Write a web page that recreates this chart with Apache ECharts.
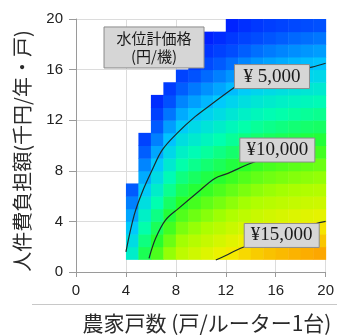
<!DOCTYPE html>
<html>
<head>
<meta charset="utf-8">
<script src="https://cdn.jsdelivr.net/npm/echarts@6/dist/echarts.min.js"></script>
<style>
  html, body { margin: 0; padding: 0; background: #ffffff; }
  #chart { width: 337px; height: 336px; }
</style>
</head>
<body>
<div id="chart"></div>
<script>
// Cell centres along the farm-count axis (households per router)
const farmCenters = [4.5, 5.5, 6.5, 7.5, 8.5, 9.5, 10.5, 11.5, 12.5, 13.5, 14.5, 15.5, 16.5, 17.5, 18.5, 19.5];
// Labour-cost centre of the lowest row in every column (thousand yen / year / household)
const laborStart = 1.5;

// Affordable water-level gauge price (yen per unit), one list per column, bottom row first
const priceByColumn = [
  [6700, 5900, 5100, 4300, 3500, 2700],
  [9200, 8400, 7600, 6800, 6000, 5200, 4400, 3600, 2800, 2000],
  [10700, 9900, 9100, 8300, 7500, 6700, 5900, 5100, 4300, 3500, 2700, 1900, 1100],
  [12100, 11300, 10500, 9700, 8900, 8100, 7300, 6500, 5700, 4900, 4100, 3300, 2500, 1700],
  [13200, 12400, 11600, 10800, 10000, 9200, 8400, 7600, 6800, 6000, 5200, 4400, 3600, 2800, 2000],
  [13750, 12950, 12150, 11350, 10550, 9750, 8950, 8150, 7350, 6550, 5750, 4950, 4150, 3350, 2550, 1750],
  [14250, 13450, 12650, 11850, 11050, 10250, 9450, 8650, 7850, 7050, 6250, 5450, 4650, 3850, 3050, 2250, 1450, 650],
  [14700, 13900, 13100, 12300, 11500, 10700, 9900, 9100, 8300, 7500, 6700, 5900, 5100, 4300, 3500, 2700, 1900, 1100],
  [15150, 14350, 13550, 12750, 11950, 11150, 10350, 9550, 8750, 7950, 7150, 6350, 5550, 4750, 3950, 3150, 2350, 1550, 750],
  [15600, 14800, 14000, 13200, 12400, 11600, 10800, 10000, 9200, 8400, 7600, 6800, 6000, 5200, 4400, 3600, 2800, 2000, 1200],
  [15950, 15150, 14350, 13550, 12750, 11950, 11150, 10350, 9550, 8750, 7950, 7150, 6350, 5550, 4750, 3950, 3150, 2350, 1550],
  [16200, 15400, 14600, 13800, 13000, 12200, 11400, 10600, 9800, 9000, 8200, 7400, 6600, 5800, 5000, 4200, 3400, 2600, 1800],
  [16400, 15600, 14800, 14000, 13200, 12400, 11600, 10800, 10000, 9200, 8400, 7600, 6800, 6000, 5200, 4400, 3600, 2800, 2000],
  [16600, 15800, 15000, 14200, 13400, 12600, 11800, 11000, 10200, 9400, 8600, 7800, 7000, 6200, 5400, 4600, 3800, 3000, 2200],
  [16750, 15950, 15150, 14350, 13550, 12750, 11950, 11150, 10350, 9550, 8750, 7950, 7150, 6350, 5550, 4750, 3950, 3150, 2350],
  [16900, 16100, 15300, 14500, 13700, 12900, 12100, 11300, 10500, 9700, 8900, 8100, 7300, 6500, 5700, 4900, 4100, 3300, 2500]
];

// Iso-price lines (farm count, labour cost)
const contour5000 = [[4.0, 1.6], [4.66, 4.5], [5.32, 6.35], [6.1, 8.06], [6.9, 9.64], [8.09, 10.96], [9.54, 12.28], [10.85, 13.26], [12.7, 14.6], [13.6, 15.2], [15.5, 15.6], [17.5, 15.95], [18.9, 16.2], [20, 16.5]];
const contour10000 = [[5.85, 1.08], [6.38, 2.66], [7.17, 4.1], [8.22, 5.03], [9.8, 6.35], [11.12, 7.4], [12.17, 7.8], [14.0, 8.6], [15.5, 9.1], [17.5, 9.45], [19.0, 9.6]];
const contour15000 = [[11.2, 0.95], [12.0, 1.3], [12.8, 1.7], [13.5, 2.0], [15.5, 2.7], [17.5, 3.3], [19.5, 3.9], [20, 4.0]];

const contourLabels = ['¥ 5,000', '¥10,000', '¥15,000'];
const contourLabelAt = [[15.7, 15.45], [16.13, 9.64], [16.48, 2.89]];

const legendTitle = ['水位計価格', '(円/機)'];
const legendAt = [6.25, 17.75];

const xAxisTitle = '農家戸数 (戸/ルーター1台)';
const yAxisTitle = '人件費負担額(千円/年・戸)';

// Build heat cells from the column lists
const cells = [];
priceByColumn.forEach((col, i) => {
  col.forEach((v, j) => cells.push([farmCenters[i], laborStart + j, v]));
});

const chart = echarts.init(document.getElementById('chart'), null, { renderer: 'canvas' });

const axisCommon = {
  type: 'value',
  min: 0,
  max: 20,
  interval: 4,
  axisLine: { show: true, lineStyle: { color: '#9a9a9a', width: 1 } },
  splitLine: { show: true, lineStyle: { color: '#dcdcdc', width: 1 } },
  axisLabel: { color: '#222222', fontSize: 15, fontFamily: 'Liberation Sans, Arial, sans-serif' }
};

const option = {
  animation: false,
  backgroundColor: '#ffffff',
  grid: { left: 76, right: 8, top: 19, bottom: 64 },
  xAxis: Object.assign({}, axisCommon, {
    axisTick: { show: true, length: 5, lineStyle: { color: '#9a9a9a' } },
    axisLabel: Object.assign({}, axisCommon.axisLabel, { margin: 11 })
  }),
  yAxis: Object.assign({}, axisCommon, {
    axisTick: { show: true, length: 7, lineStyle: { color: '#9a9a9a' } },
    axisLabel: Object.assign({}, axisCommon.axisLabel, { margin: 13 })
  }),
  visualMap: {
    show: false,
    type: 'continuous',
    seriesIndex: 0,
    dimension: 2,
    min: 0,
    max: 20000,
    inRange: {
      color: ['#0010ff', '#0050ff', '#00c8ff', '#00ffb0', '#28ff28', '#a8ff00', '#f4f000', '#ff9000', '#ff4000']
    }
  },
  series: [
    {
      type: 'custom',
      data: cells,
      encode: { x: 0, y: 1 },
      z: 1,
      renderItem: function (params, api) {
        const x = api.value(0), y = api.value(1);
        const a = api.coord([x - 0.5, y + 0.5]);
        const b = api.coord([x + 0.5, y - 0.5]);
        return {
          type: 'rect',
          shape: { x: a[0], y: a[1], width: b[0] - a[0] + 0.5, height: b[1] - a[1] + 0.5 },
          style: { fill: api.visual('color') }
        };
      }
    },
    {
      type: 'line', data: contour5000, smooth: 0.35, symbol: 'none', z: 3,
      lineStyle: { color: '#1d2b2b', width: 1.2 }
    },
    {
      type: 'line', data: contour10000, smooth: 0.35, symbol: 'none', z: 3,
      lineStyle: { color: '#1d2b2b', width: 1.2 }
    },
    {
      type: 'line', data: contour15000, smooth: 0.35, symbol: 'none', z: 3,
      lineStyle: { color: '#1d2b2b', width: 1.2 }
    }
  ]
};

chart.setOption(option);

// Annotation boxes placed at data coordinates
function box(center, w, h, lines, font, lineH) {
  const p = chart.convertToPixel({ gridIndex: 0 }, center);
  const children = [{
    type: 'rect',
    shape: { x: p[0] - w / 2, y: p[1] - h / 2, width: w, height: h },
    style: { fill: '#d6d6d6', stroke: '#8c8c8c', lineWidth: 1 },
    z: 10
  }];
  lines.forEach((t, k) => {
    children.push({
      type: 'text',
      x: p[0],
      y: p[1] + (k - (lines.length - 1) / 2) * lineH,
      style: { text: t, font: font, fill: '#1a1a1a', align: 'center', verticalAlign: 'middle' },
      z: 11
    });
  });
  return { type: 'group', children: children };
}

const graphics = [];
contourLabels.forEach((t, i) => {
  graphics.push(box(contourLabelAt[i], 75, 24, [t], '19px "Liberation Serif", "Times New Roman", serif', 20));
});
graphics.push(box(legendAt, 100, 41, legendTitle, '15px "Noto Sans CJK JP", sans-serif', 18));

// Axis titles and the separator rule under the x axis
graphics.push({
  type: 'text', x: 207, y: 323,
  style: { text: xAxisTitle, font: '21px "Noto Sans CJK JP", sans-serif', fill: '#2a2a2a', align: 'center', verticalAlign: 'middle' }
});
graphics.push({
  type: 'text', x: 22, y: 151, rotation: Math.PI / 2,
  style: { text: yAxisTitle, font: '20px "Noto Sans CJK JP", sans-serif', fill: '#2a2a2a', align: 'center', verticalAlign: 'middle' }
});
graphics.push({
  type: 'line', shape: { x1: 32, y1: 304.5, x2: 337, y2: 304.5 },
  style: { stroke: '#c8c8c8', lineWidth: 1 }
});

chart.setOption({ graphic: graphics });
</script>
</body>
</html>
